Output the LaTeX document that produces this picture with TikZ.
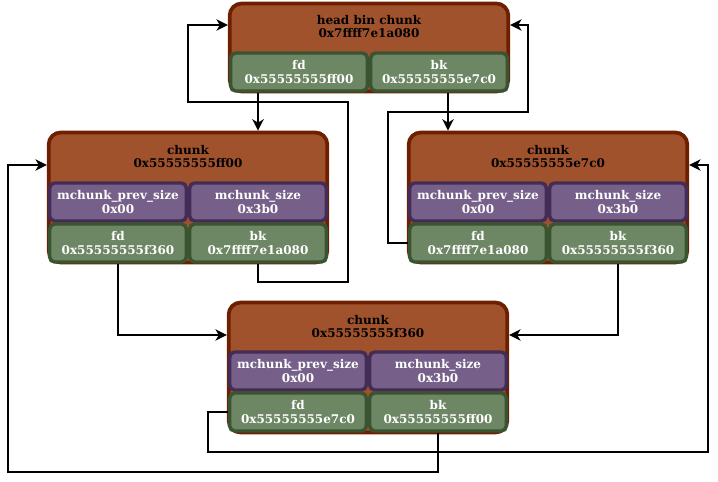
\documentclass[tikz,border=0pt]{standalone}
\usepackage{fontspec}
\setmainfont{DejaVu Serif}
\usetikzlibrary{arrows.meta,calc}
\definecolor{hfill}{HTML}{A0522D}
\definecolor{hdraw}{HTML}{6D1F00}
\definecolor{pfill}{HTML}{76608A}
\definecolor{pdraw}{HTML}{432D57}
\definecolor{gfill}{HTML}{6D8764}
\definecolor{gdraw}{HTML}{3A5431}
\begin{document}
\begin{tikzpicture}[x=0.75pt,y=-0.75pt,
  txt/.style={font=\fontsize{9pt}{9.9pt}\selectfont\bfseries, align=center},
  outerbox/.style={draw=hdraw, fill=hfill, line width=2.8pt, rounded corners=9pt,
    minimum width=209pt, inner sep=0pt},
  headtxt/.style={txt, text=black, inner sep=0pt},
  cellbox/.style={line width=2.6pt, rounded corners=3.75pt, minimum width=102.5pt,
    minimum height=28.5pt, inner sep=0pt, txt, text=white},
  pcell/.style={cellbox, draw=pdraw, fill=pfill},
  gcell/.style={cellbox, draw=gdraw, fill=gfill},
  arr/.style={line width=1.9pt, -{Stealth[length=8.5pt,width=8.5pt,inset=2.5pt]}}]
\useasboundingbox (0,0) rectangle (718,482);

% head bin chunk
\node[outerbox, minimum height=66pt] (H) at (369,47.5) {};
\node[headtxt] (Ht) at (369,26.5) {head bin chunk\\0x7ffff7e1a080};
\node[gcell] (Hfd) at (299,72) {fd\\0x55555555ff00};
\node[gcell] (Hbk) at (439,72) {bk\\0x55555555e7c0};

% chunk ff00
\node[outerbox, minimum height=97.5pt] (L) at (188,197.5) {};
\node[headtxt] (Lt) at (188,156.5) {chunk\\0x55555555ff00};
\node[pcell] (Lps) at (118,202) {mchunk\_prev\_size\\0x00};
\node[pcell] (Lsz) at (258,202) {mchunk\_size\\0x3b0};
\node[gcell] (Lfd) at (118,243) {fd\\0x55555555f360};
\node[gcell] (Lbk) at (258,243) {bk\\0x7ffff7e1a080};

% chunk e7c0
\node[outerbox, minimum height=97.5pt] (R) at (548,197.5) {};
\node[headtxt] (Rt) at (548,156.5) {chunk\\0x55555555e7c0};
\node[pcell] (Rps) at (478,202) {mchunk\_prev\_size\\0x00};
\node[pcell] (Rsz) at (618,202) {mchunk\_size\\0x3b0};
\node[gcell] (Rfd) at (478,243) {fd\\0x7ffff7e1a080};
\node[gcell] (Rbk) at (618,243) {bk\\0x55555555f360};

% chunk f360
\node[outerbox, minimum height=97.5pt] (B) at (368,367.5) {};
\node[headtxt] (Bt) at (368,326.5) {chunk\\0x55555555f360};
\node[pcell] (Bps) at (298,371) {mchunk\_prev\_size\\0x00};
\node[pcell] (Bsz) at (438,371) {mchunk\_size\\0x3b0};
\node[gcell] (Bfd) at (298,412) {fd\\0x55555555e7c0};
\node[gcell] (Bbk) at (438,412) {bk\\0x55555555ff00};

% connectors
\draw[arr] ($(Hfd.south)+(-41,0)$) -- ($(L.north)+(70,0)$);
\draw[arr] ($(Hbk.south)+(9,0)$) -- ($(R.north)+(-100,0)$);
\draw[arr] (Lbk.south) -- (258,282) -- (348,282) -- (348,102) -- (188,102) -- (188,25) -- ($(H.west)+(0,-22.5)$);
\draw[arr] (Rfd.west) -- (388,243) -- (388,112) -- (528,112) -- (528,25) -- ($(H.east)+(0,-22.5)$);
\draw[arr] (Lfd.south) |- ($(B.west)+(0,-32.5)$);
\draw[arr] (Rbk.south) |- ($(B.east)+(0,-32.5)$);
\draw[arr] (Bfd.west) -- (208,412) -- (208,452) -- (708,452) -- (708,165) -- ($(R.east)+(0,-32.5)$);
\draw[arr] (Bbk.south) -- (438,472) -- (8,472) -- (8,165) -- ($(L.west)+(0,-32.5)$);
\end{tikzpicture}
\end{document}
